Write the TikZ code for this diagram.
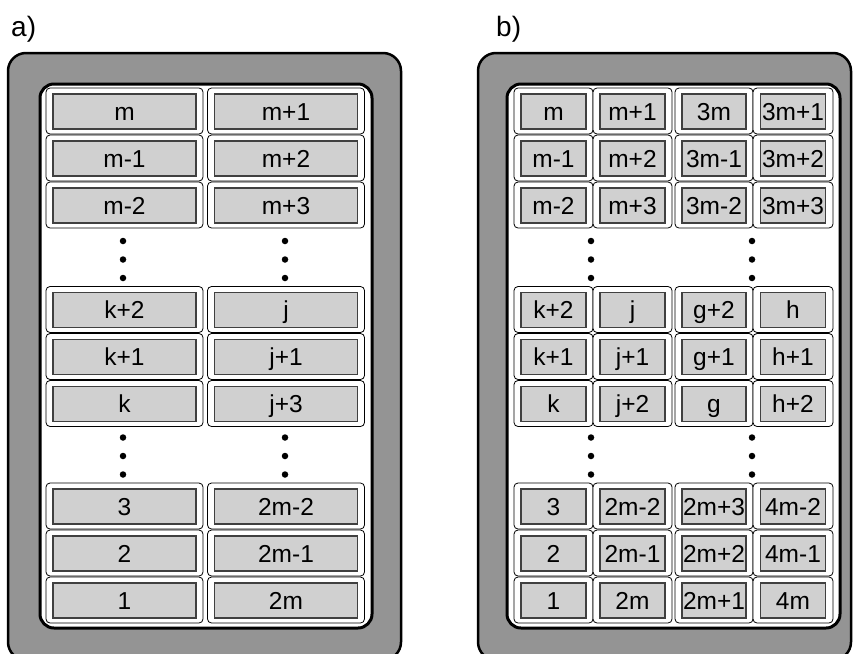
\documentclass[tikz,border=0pt]{standalone}
\usepackage{fontspec}
\setmainfont{Liberation Sans}
\definecolor{framegray}{HTML}{949494}
\definecolor{slotgray}{HTML}{D0D0D0}
\definecolor{slotedge}{HTML}{404040}
\tikzset{
  frame/.style={draw=black, line width=2.5pt, fill=framegray, rounded corners=18pt},
  rack/.style={draw=black, line width=3pt, fill=white, rounded corners=14pt},
  cell/.style={draw=black, line width=0.8pt, fill=white, rounded corners=4pt,
    minimum height=46pt, inner sep=0pt},
  slot/.style={draw=slotedge, line width=1.2pt, fill=slotgray,
    minimum height=35pt, inner sep=0pt, text height=17.5pt, text depth=0pt,
    font=\fontsize{24.5}{24.5}\selectfont},
  blob/.style={circle, fill=black, inner sep=0pt, minimum size=6.5pt},
  panel/.style={font=\fontsize{28}{28}\selectfont, anchor=base west, inner sep=0pt}
}
% one cell: #1 name, #2 x, #3 y, #4 cell width, #5 slot width, #6 text
\newcommand{\memcell}[6]{%
  \node[cell, minimum width=#4pt] (#1) at (#2,#3) {};
  \node[slot, minimum width=#5pt] (#1s) at (#2,#3+0.5) {#6};
}
\begin{document}
\begin{tikzpicture}[x=1pt,y=-1pt]
\useasboundingbox (0,0) rectangle (858,653);

% panel labels
\node[panel] (la) at (11,36) {a)};
\node[panel] (lb) at (496,36) {b)};

% outer frames and white racks
\draw[frame] (8,53) rectangle (401,660);
\draw[frame] (478,53) rectangle (851,660);
\draw[rack] (40,84) rectangle (372,628);
\draw[rack] (507,84) rectangle (840,628);

% panel a: two columns
\foreach \g/\s in {1/88,2/286.5,3/483}{
  \foreach \r in {0,1,2}{
    \pgfmathsetmacro{\yy}{\s+23+47*\r}
    \pgfmathtruncatemacro{\idx}{3*(\g-1)+\r}
    \pgfmathsetmacro{\la}{{"m","m-1","m-2","k+2","k+1","k","3","2","1"}[\idx]}
    \pgfmathsetmacro{\lb}{{"m+1","m+2","m+3","j","j+1","j+3","2m-2","2m-1","2m"}[\idx]}
    \memcell{a\g\r l}{124.5}{\yy}{157}{143}{\la}
    \memcell{a\g\r r}{286}{\yy}{157}{143}{\lb}
  }
}

% panel b: four columns
\foreach \g/\s in {1/88,2/286.5,3/483}{
  \foreach \r in {0,1,2}{
    \pgfmathsetmacro{\yy}{\s+23+47*\r}
    \pgfmathtruncatemacro{\idx}{3*(\g-1)+\r}
    \pgfmathsetmacro{\la}{{"m","m-1","m-2","k+2","k+1","k","3","2","1"}[\idx]}
    \pgfmathsetmacro{\lb}{{"m+1","m+2","m+3","j","j+1","j+2","2m-2","2m-1","2m"}[\idx]}
    \pgfmathsetmacro{\lc}{{"3m","3m-1","3m-2","g+2","g+1","g","2m+3","2m+2","2m+1"}[\idx]}
    \pgfmathsetmacro{\ld}{{"3m+1","3m+2","3m+3","h","h+1","h+2","4m-2","4m-1","4m"}[\idx]}
    \memcell{b\g\r a}{553.5}{\yy}{79}{65}{\la}
    \memcell{b\g\r b}{632.5}{\yy}{79}{65}{\lb}
    \memcell{b\g\r c}{714}{\yy}{78}{64}{\lc}
    \memcell{b\g\r d}{793}{\yy}{80}{65}{\ld}
  }
}

% vertical ellipses
\foreach \gap/\yc in {1/259.5,2/456}{
  \foreach \k/\dy in {0/-18.5,1/0,2/18.5}{
    \node[blob] (da\gap\k l) at (123,\yc+\dy) {};
    \node[blob] (da\gap\k r) at (285,\yc+\dy) {};
    \node[blob] (db\gap\k l) at (591,\yc+\dy) {};
    \node[blob] (db\gap\k r) at (752,\yc+\dy) {};
  }
}
\end{tikzpicture}
\end{document}
